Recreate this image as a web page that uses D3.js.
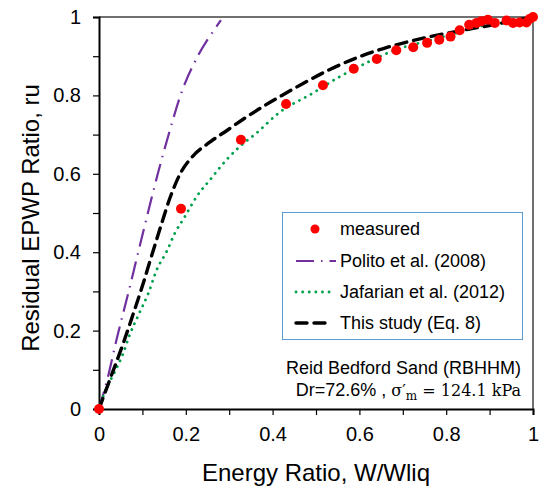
<!DOCTYPE html>
<html>
<head>
<meta charset="utf-8">
<script src="https://cdn.jsdelivr.net/npm/d3@7"></script>
<style>
  body { margin: 0; background: #fff; }
  text { font-family: "Liberation Sans", Arial, sans-serif; fill: #000; }
</style>
</head>
<body>
<script>
/* global d3 */

var width = 542;
var height = 493;

// measured points (W/Wliq, ru)
var measX = [0, 0.189, 0.327, 0.431, 0.516, 0.587, 0.640, 0.685, 0.724, 0.756, 0.784, 0.810,
    0.831, 0.853, 0.870, 0.881, 0.896, 0.912, 0.939, 0.954, 0.969, 0.985, 0.992, 1.0];
var measY = [0, 0.511, 0.687, 0.778, 0.826, 0.868, 0.893, 0.915, 0.923, 0.934, 0.942, 0.950,
    0.966, 0.980, 0.985, 0.989, 0.993, 0.985, 0.991, 0.985, 0.986, 0.986, 0.995, 1.0];

// Polito et al. (2008)
var politoX = [0, 0.019, 0.041, 0.065, 0.088, 0.111, 0.135, 0.161, 0.189, 0.229, 0.267, 0.281];
var politoY = [0, 0.075, 0.180, 0.285, 0.389, 0.493, 0.598, 0.702, 0.804, 0.903, 0.970, 0.992];

// Jafarian et al. (2012)
var jafX = [0, 0.014, 0.035, 0.056, 0.071, 0.093, 0.114, 0.133, 0.156, 0.175, 0.198, 0.225,
    0.256, 0.294, 0.325, 0.363, 0.414, 0.493, 0.555, 0.616, 0.685, 0.754, 0.824, 0.893, 0.954, 1.0];
var jafY = [0, 0.045, 0.092, 0.143, 0.190, 0.245, 0.296, 0.355, 0.402, 0.449, 0.491, 0.542,
    0.585, 0.636, 0.670, 0.704, 0.755, 0.806, 0.848, 0.883, 0.917, 0.938, 0.959, 0.980, 0.989, 1.0];

// This study (Eq. 8)
var studyX = [0, 0.025, 0.056, 0.075, 0.096, 0.121, 0.144, 0.163, 0.187, 0.217, 0.252, 0.298,
    0.340, 0.386, 0.417, 0.463, 0.532, 0.601, 0.662, 0.724, 0.785, 0.847, 0.908, 0.954, 1.0];
var studyY = [0, 0.075, 0.168, 0.230, 0.300, 0.390, 0.472, 0.537, 0.600, 0.646, 0.678, 0.713,
    0.745, 0.777, 0.797, 0.826, 0.866, 0.899, 0.922, 0.940, 0.955, 0.968, 0.980, 0.990, 1.0];

var ticks = [0, 0.1, 0.2, 0.3, 0.4, 0.5, 0.6, 0.7, 0.8, 0.9, 1];
var labelTicks = [0, 0.2, 0.4, 0.6, 0.8, 1];

var margin = {top: 17, right: 9, bottom: 84, left: 99};
var w = width - margin.left - margin.right,
        h = height - margin.top - margin.bottom;

var svg = d3.select("body").append("svg")
        .attr("width", width)
        .attr("height", height);

var g = svg.append("g")
        .attr("transform", "translate(" + margin.left + "," + margin.top + ")");

var x = d3.scaleLinear().domain([0, 1]).range([0, w]);
var y = d3.scaleLinear().domain([0, 1]).range([h, 0]);

function fmt(d) {
    return labelTicks.indexOf(d) >= 0 ? d3.format("")(d) : "";
}

// frame top / right
g.append("line").attr("x1", 0).attr("x2", w).attr("y1", 0).attr("y2", 0)
        .attr("stroke", "#404040").attr("stroke-width", 1.5);
g.append("line").attr("x1", w).attr("x2", w).attr("y1", 0).attr("y2", h)
        .attr("stroke", "#404040").attr("stroke-width", 1.5);

var xAxis = g.append("g")
        .attr("transform", "translate(0," + h + ")")
        .call(d3.axisBottom(x).tickValues(ticks).tickFormat(fmt).tickSize(6).tickPadding(12));
var yAxis = g.append("g")
        .call(d3.axisLeft(y).tickValues(ticks).tickFormat(fmt).tickSize(6).tickPadding(12));

[xAxis, yAxis].forEach(function (a) {
    a.select(".domain").attr("stroke", "#000").attr("stroke-width", 2);
    a.selectAll(".tick line").attr("stroke", "#000").attr("stroke-width", 1.2);
    a.selectAll("text").style("font-size", "20px").style("font-family", "Liberation Sans, Arial, sans-serif");
});

function zip(xs, ys) {
    return xs.map(function (v, i) {
        return [v, ys[i]];
    });
}

var line = d3.line()
        .curve(d3.curveMonotoneX)
        .x(function (d) { return x(d[0]); })
        .y(function (d) { return y(d[1]); });

var series = [
    {name: "Polito et al. (2008)", xs: politoX, ys: politoY, color: "#7030a0", width: 2.2, dash: "18 7 1.5 7", cap: "butt"},
    {name: "Jafarian et al. (2012)", xs: jafX, ys: jafY, color: "#00a04c", width: 2.8, dash: "0.1 6.5", cap: "round"},
    {name: "This study (Eq. 8)", xs: studyX, ys: studyY, color: "#000", width: 3.4, dash: "11 7", cap: "round"}
];

series.forEach(function (s) {
    g.append("path")
            .datum(zip(s.xs, s.ys))
            .attr("d", line)
            .attr("fill", "none")
            .attr("stroke", s.color)
            .attr("stroke-width", s.width)
            .attr("stroke-dasharray", s.dash)
            .attr("stroke-linecap", s.cap);
});

g.selectAll(".meas")
        .data(zip(measX, measY))
        .enter().append("circle")
        .attr("cx", function (d) { return x(d[0]); })
        .attr("cy", function (d) { return y(d[1]); })
        .attr("r", 5)
        .attr("fill", "#ff0000");

// axis titles
svg.append("text")
        .attr("x", margin.left + w / 2)
        .attr("y", 481)
        .attr("text-anchor", "middle")
        .style("font-size", "24px")
        .text("Energy Ratio, W/Wliq");
svg.append("text")
        .attr("transform", "translate(39,218) rotate(-90)")
        .attr("text-anchor", "middle")
        .style("font-size", "24px")
        .text("Residual EPWP Ratio, ru");

// legend
var leg = svg.append("g");
leg.append("rect")
        .attr("x", 282.5).attr("y", 212.5)
        .attr("width", 240).attr("height", 127)
        .attr("fill", "#fff")
        .attr("stroke", "#5b9bd5")
        .attr("stroke-width", 1);

var legRows = [229, 261, 292, 323];
leg.append("circle").attr("cx", 315).attr("cy", legRows[0]).attr("r", 4.5).attr("fill", "#ff0000");
leg.append("text").attr("x", 340).attr("y", legRows[0]).attr("dy", "0.35em")
        .style("font-size", "18px").text("measured");
series.forEach(function (s, i) {
    leg.append("line")
            .attr("x1", 296).attr("x2", s.cap === "round" ? 330 : 336)
            .attr("y1", legRows[i + 1]).attr("y2", legRows[i + 1])
            .attr("stroke", s.color)
            .attr("stroke-width", s.width)
            .attr("stroke-dasharray", s.dash)
            .attr("stroke-linecap", s.cap);
    leg.append("text").attr("x", 340).attr("y", legRows[i + 1]).attr("dy", "0.35em")
            .style("font-size", "18px").text(s.name);
});

// annotation
svg.append("text")
        .attr("x", 521).attr("y", 374)
        .attr("text-anchor", "end")
        .style("font-size", "18px")
        .text("Reid Bedford Sand (RBHHM)");
var note = svg.append("text")
        .attr("x", 521).attr("y", 396)
        .attr("text-anchor", "end")
        .style("font-size", "18px");
note.append("tspan").text("Dr=72.6% , ");
note.append("tspan").style("font-family", "DejaVu Serif, Liberation Serif, serif").style("font-size", "16px").text("σ′");
note.append("tspan").style("font-family", "DejaVu Serif, Liberation Serif, serif").style("font-size", "12px").attr("dy", 4).text("m");
note.append("tspan").style("font-family", "DejaVu Serif, Liberation Serif, serif").style("font-size", "16px").attr("dy", -4).text(" = 124.1 kPa");
</script>
</body>
</html>
